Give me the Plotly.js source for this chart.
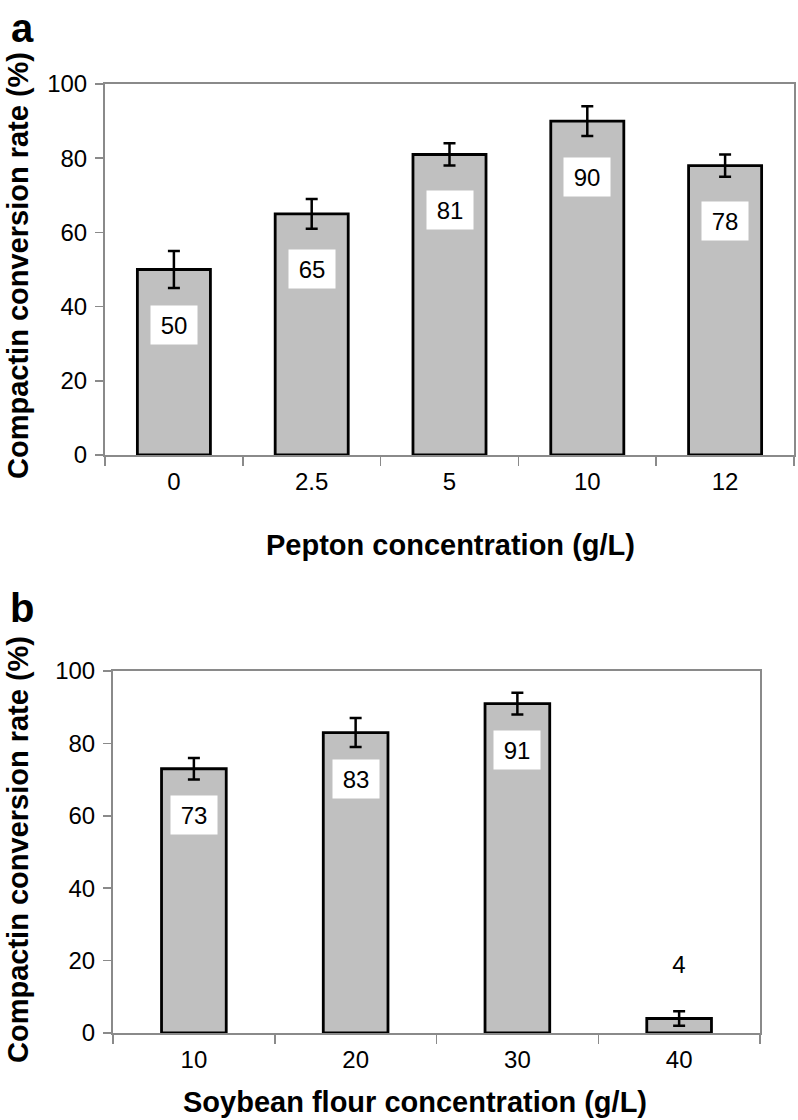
<!DOCTYPE html>
<html>
<head>
<meta charset="utf-8">
<script src="https://cdn.plot.ly/plotly-3.0.1.min.js"></script>
<style>html,body{margin:0;padding:0;background:#fff;}#chart{width:798px;height:1120px;}</style>
</head>
<body>
<div id="chart"></div>
<script>
// ---- data ----
const peptonCategories = ['0', '2.5', '5', '10', '12'];
const peptonValues = [50, 65, 81, 90, 78];
const peptonErrors = [5, 4, 3, 4, 3];

const soyCategories = ['10', '20', '30', '40'];
const soyValues = [73, 83, 91, 4];
const soyErrors = [3, 4, 3, 2];

const yTitle = 'Compactin conversion rate (%)';
const xTitleA = 'Pepton concentration (g/L)';
const xTitleB = 'Soybean flour concentration (g/L)';

// ---- styling ----
const FONT = 'Liberation Sans, Arial, Helvetica, sans-serif';
const W = 798, H = 1120;
const px = v => v / W;
const py = v => 1 - v / H;
const axisGray = '#8a8a8a';

function barTrace(cats, vals, errs, xa, ya, width) {
  return {
    type: 'bar', x: cats, y: vals, xaxis: xa, yaxis: ya, width: width,
    marker: {color: '#c0c0c0', line: {color: '#000', width: 2.8}},
    error_y: {type: 'data', array: errs, visible: true, color: '#000', thickness: 2.5, width: 6},
    hoverinfo: 'skip', showlegend: false
  };
}

const traces = [
  barTrace(peptonCategories, peptonValues, peptonErrors, 'x', 'y', 0.53),
  barTrace(soyCategories, soyValues, soyErrors, 'x2', 'y2', 0.40)
];

function yAxis(domain, anchor) {
  return {
    domain: domain, range: [0, 100], dtick: 20, tick0: 0, anchor: anchor,
    ticks: 'outside', ticklen: 8, tickwidth: 1.5, tickcolor: axisGray,
    showline: true, linecolor: axisGray, linewidth: 2, mirror: true,
    showgrid: false, zeroline: false, fixedrange: true,
    tickfont: {family: FONT, size: 24, color: '#000'}, ticklabelstandoff: 3
  };
}
function xAxis(domain, n, anchor) {
  return {
    domain: domain, type: 'category', range: [-0.5, n - 0.5], anchor: anchor,
    ticks: 'outside', tickson: 'boundaries', ticklen: 9, tickwidth: 1.5, tickcolor: axisGray,
    showline: true, linecolor: axisGray, linewidth: 2, mirror: true,
    showgrid: false, zeroline: false, fixedrange: true,
    tickfont: {family: FONT, size: 24, color: '#000'}, ticklabelstandoff: 4
  };
}

const annotations = [];
function valueLabels(cats, vals, xref, yref, insideOffset, outsideOffset) {
  cats.forEach((c, i) => {
    const inside = vals[i] > 20;
    annotations.push({
      xref: xref, yref: yref, x: i, y: inside ? vals[i] - insideOffset : vals[i] + outsideOffset,
      text: String(vals[i]), showarrow: false,
      font: {family: FONT, size: 24, color: '#000'},
      bgcolor: inside ? '#ffffff' : 'rgba(0,0,0,0)',
      width: 36, height: 28, borderpad: 5, xanchor: 'center', yanchor: 'middle'
    });
  });
}
valueLabels(peptonCategories, peptonValues, 'x', 'y', 15, 15);
valueLabels(soyCategories, soyValues, 'x2', 'y2', 12.7, 15);

function textAnn(text, x, y, size, angle) {
  annotations.push({
    xref: 'paper', yref: 'paper', x: px(x), y: py(y), text: text, showarrow: false,
    textangle: angle, xanchor: 'center', yanchor: 'middle',
    font: {family: FONT, size: size, color: '#000'}
  });
}
textAnn('<b>a</b>', 22, 28, 40, 0);
textAnn('<b>b</b>', 22, 608, 40, 0);
textAnn('<b>' + yTitle + '</b>', 18, 266, 29, -90);
textAnn('<b>' + yTitle + '</b>', 18, 850, 29, -90);
textAnn('<b>' + xTitleA + '</b>', 450, 545, 29, 0);
textAnn('<b>' + xTitleB + '</b>', 415, 1102, 29, 0);

const layout = {
  width: W, height: H,
  margin: {l: 0, r: 0, t: 0, b: 0},
  paper_bgcolor: '#fff', plot_bgcolor: '#fff',
  showlegend: false,
  xaxis: xAxis([px(105), px(794)], peptonCategories.length, 'y'),
  yaxis: yAxis([py(455), py(84)], 'x'),
  xaxis2: xAxis([px(113), px(760)], soyCategories.length, 'y2'),
  yaxis2: yAxis([py(1033), py(671)], 'x2'),
  annotations: annotations
};

Plotly.newPlot('chart', traces, layout, {staticPlot: true, displayModeBar: false});
</script>
</body>
</html>
